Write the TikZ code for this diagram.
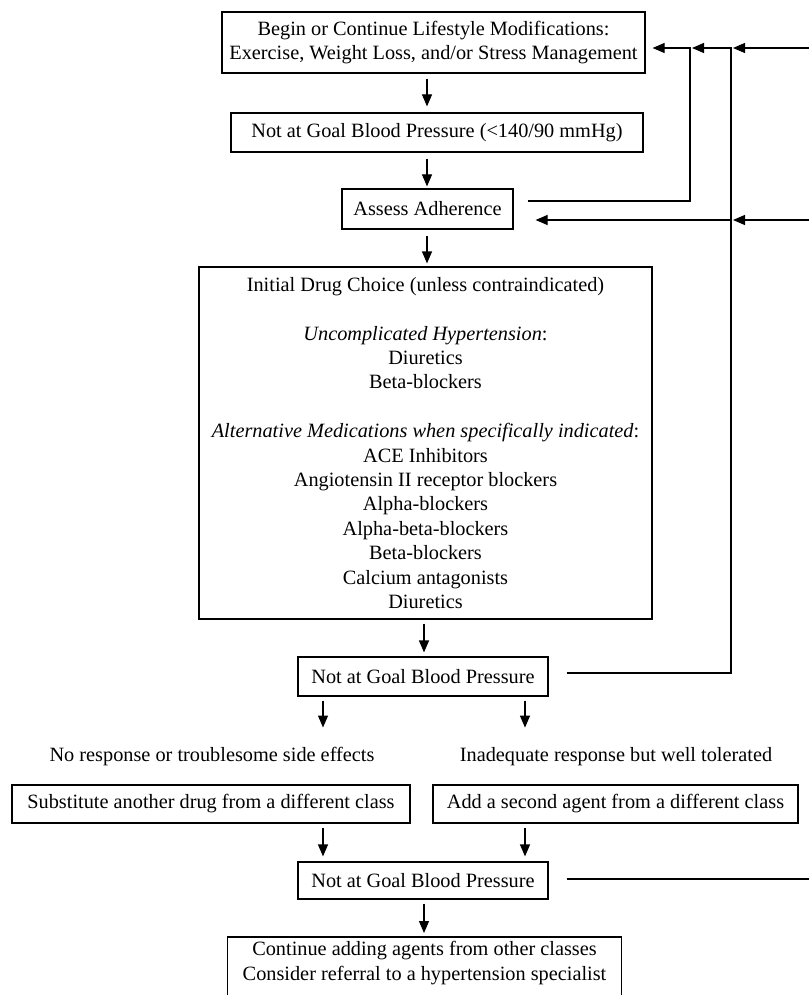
\documentclass[tikz,border=0pt]{standalone}
\usepackage{fontspec}
\setmainfont{Liberation Serif}
\usetikzlibrary{arrows.meta,calc}
\newcommand\bodyfont{\fontsize{20.3}{24.4}\selectfont}
\begin{document}
\begin{tikzpicture}[x=1pt,y=-1pt,
  box/.style={draw,line width=1.2pt,inner sep=0pt,align=center,font=\bodyfont},
  lbl/.style={inner sep=0pt,align=center,font=\bodyfont},
  arr/.style={line width=1.2pt,-{Triangle[length=12pt,width=10pt]}},
  conn/.style={line width=1.2pt}]
\useasboundingbox (0,0) rectangle (808,995);
\fill[white] (0,0) rectangle (808,995);

% helper coordinates
\coordinate (xa) at (427,0);
\coordinate (xb) at (424,0);
\coordinate (xl) at (323,0);
\coordinate (xr) at (525,0);
\coordinate (r1) at (690,0);
\coordinate (r2) at (731,0);
\coordinate (r3) at (814,0);
\coordinate (ytop) at (0,48);
\coordinate (yadh) at (0,220);
\coordinate (ftop) at (0,937);
\coordinate (fbot) at (0,1003);

% nodes
\node[box,minimum width=423,minimum height=61] (b1) at (433.5,42.5)
  {Begin or Continue Lifestyle Modifications:\\Exercise, Weight Loss, and/or Stress Management};
\node[box,minimum width=412,minimum height=39] (b2) at (437,132.5)
  {Not at Goal Blood Pressure (<140/90 mmHg)};
\node[box,minimum width=171,minimum height=40] (b3) at (427.5,209) {Assess Adherence};
\node[box,minimum width=453,minimum height=352] (b4) at (425.5,443)
  {Initial Drug Choice (unless contraindicated)\\[24.4pt]
   \textit{Uncomplicated Hypertension}:\\
   Diuretics\\
   Beta-blockers\\[24.4pt]
   \textit{Alternative Medications when specifically indicated}:\\
   ACE Inhibitors\\
   Angiotensin II receptor blockers\\
   Alpha-blockers\\
   Alpha-beta-blockers\\
   Beta-blockers\\
   Calcium antagonists\\
   Diuretics};
\node[box,minimum width=250,minimum height=39] (nag2) at (423,676.5) {Not at Goal Blood Pressure};
\node[lbl] (noresp) at (212,757) {No response or troublesome side effects};
\node[lbl] (inad) at (616,757) {Inadequate response but well tolerated};
\node[box,minimum width=398,minimum height=38] (sub) at (211,804)
  {Substitute another drug from a different class};
\node[box,minimum width=365,minimum height=38] (add) at (615.5,804)
  {Add a second agent from a different class};
\node[box,minimum width=250,minimum height=37] (nag3) at (423,880.5) {Not at Goal Blood Pressure};
\node[lbl,minimum width=393] (fin) at (424.5,963)
  {Continue adding agents from other classes\\Consider referral to a hypertension specialist};
\draw[conn] (fin.west |- fbot) -- (fin.west |- ftop) -- (fin.east |- ftop) -- (fin.east |- fbot);

% main downward arrows
\draw[arr] ($(b1.south -| xa)+(0,5)$) -- ($(b2.north -| xa)+(0,-6)$);
\draw[arr] ($(b2.south -| xa)+(0,6)$) -- ($(b3.north -| xa)+(0,-2)$);
\draw[arr] ($(b3.south -| xa)+(0,6)$) -- ($(b4.north -| xa)+(0,-3)$);
\draw[arr] ($(b4.south -| xb)+(0,4)$) -- ($(nag2.north -| xb)+(0,-4)$);
\draw[arr] ($(nag2.south -| xl)+(0,4)$) -- ($(noresp.north -| xl)+(0,-20)$);
\draw[arr] ($(nag2.south -| xr)+(0,4)$) -- ($(inad.north -| xr)+(0,-20)$);
\draw[arr] ($(sub.south -| xl)+(0,4)$) -- ($(nag3.north -| xl)+(0,-5)$);
\draw[arr] ($(add.south -| xr)+(0,4)$) -- ($(nag3.north -| xr)+(0,-5)$);
\draw[arr] ($(nag3.south -| xb)+(0,4)$) -- ($(xb |- ftop)+(0,-4)$);

% feedback loops on the right
\draw[arr] ($(b3.east)+(14,-8)$) -| (r1 |- ytop) -- ($(b1.east |- ytop)+(7,0)$);
\draw[arr] ($(nag2.east)+(18,-3.5)$) -| (r2 |- ytop) -- ($(r1 |- ytop)+(2,0)$);
\draw[arr] (r2 |- yadh) -- ($(b3.east |- yadh)+(22,0)$);
\draw[arr] ($(nag3.east)+(18,-1.5)$) -| (r3 |- ytop) -- ($(r2 |- ytop)+(2,0)$);
\draw[arr] (r3 |- yadh) -- ($(r2 |- yadh)+(2,0)$);
\end{tikzpicture}
\end{document}
